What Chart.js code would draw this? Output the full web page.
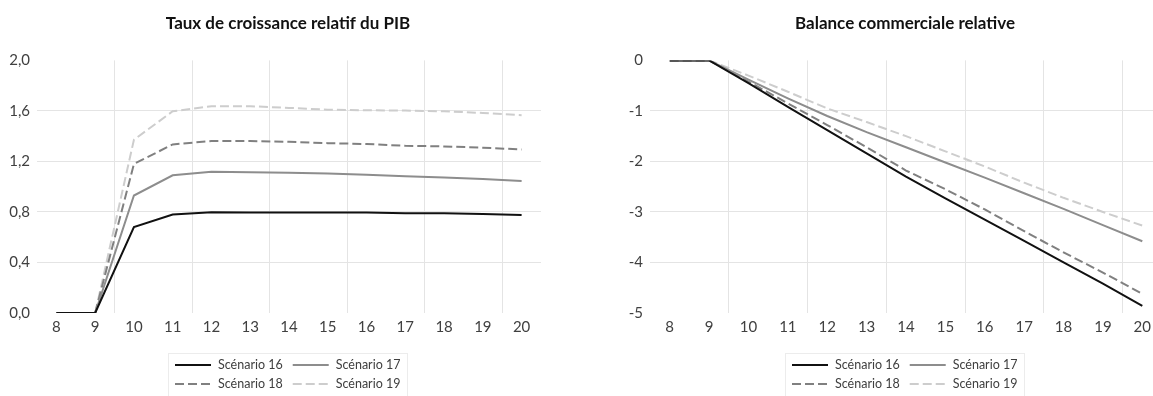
<!DOCTYPE html>
<html>
<head>
<meta charset="utf-8">
<script src="https://cdn.jsdelivr.net/npm/chart.js@4.4.1/dist/chart.umd.min.js"></script>
<style>
  html, body { margin: 0; padding: 0; background: #fff; overflow: hidden; }
  body { width: 1153px; height: 396px; position: relative; }
  canvas { position: absolute; top: 0; }
  #pib { left: 0; }
  #balance { left: 580px; }
</style>
</head>
<body>
<canvas id="pib" width="576" height="396"></canvas>
<canvas id="balance" width="650" height="396"></canvas>
<script>
const years = ['8', '9', '10', '11', '12', '13', '14', '15', '16', '17', '18', '19', '20'];
const scenarios = ['Scénario 16', 'Scénario 17', 'Scénario 18', 'Scénario 19'];

// Taux de croissance relatif du PIB
const pib16 = [0, 0, 0.68, 0.78, 0.797, 0.795, 0.795, 0.795, 0.795, 0.79, 0.79, 0.784, 0.776];
const pib17 = [0, 0, 0.93, 1.09, 1.118, 1.115, 1.11, 1.105, 1.094, 1.083, 1.073, 1.06, 1.046];
const pib18 = [0, 0, 1.18, 1.335, 1.362, 1.362, 1.355, 1.345, 1.338, 1.324, 1.319, 1.309, 1.295];
const pib19 = [0, 0, 1.372, 1.597, 1.637, 1.637, 1.624, 1.61, 1.605, 1.603, 1.597, 1.584, 1.566];
const pibTicks = ['0,0', '0,4', '0,8', '1,2', '1,6', '2,0'];

// Balance commerciale relative
const bal16 = [0, 0, -0.45, -0.92, -1.38, -1.84, -2.3, -2.73, -3.15, -3.57, -4.0, -4.42, -4.86];
const bal17 = [0, 0, -0.38, -0.75, -1.1, -1.42, -1.72, -2.02, -2.32, -2.63, -2.94, -3.26, -3.58];
const bal18 = [0, 0, -0.42, -0.85, -1.28, -1.72, -2.18, -2.55, -2.95, -3.38, -3.8, -4.2, -4.62];
const bal19 = [0, 0, -0.3, -0.62, -0.95, -1.22, -1.5, -1.8, -2.1, -2.42, -2.72, -3.0, -3.27];
const balTicks = ['-5', '-4', '-3', '-2', '-1', '0'];

const lineColors = ['#111111', '#8d8d8d', '#808080', '#cdcdcd'];
const lineDashes = [[], [], [9, 4], [9, 4]];
const gridColor = '#e4e4e4';
const textColor = '#404040';

// legend drawn as a framed 2x2 block under the plot, like the Excel original
const boxLegend = {
  id: 'boxLegend',
  afterDraw(chart, args, opts) {
    const ctx = chart.ctx;
    const sets = chart.data.datasets;
    ctx.save();
    ctx.font = '12.5px Lato';
    const lineLen = 36, gap = 7, colGap = 10, pad = 7;
    const tw = sets.map(d => ctx.measureText(d.label).width);
    const col1 = lineLen + gap + Math.max(tw[0], tw[2]);
    const col2 = lineLen + gap + Math.max(tw[1], tw[3]);
    const w = pad * 2 + col1 + colGap + col2;
    const left = Math.round(chart.width / 2 - w / 2);
    const top = opts.top;
    ctx.strokeStyle = '#ececec';
    ctx.lineWidth = 1;
    ctx.strokeRect(left + 0.5, top + 0.5, Math.round(w), 60);
    sets.forEach((d, i) => {
      const x = left + pad + (i % 2 ? col1 + colGap : 0);
      const y = top + 12 + Math.floor(i / 2) * 19;
      ctx.strokeStyle = d.borderColor;
      ctx.lineWidth = d.borderWidth;
      ctx.setLineDash(d.borderDash);
      ctx.beginPath();
      ctx.moveTo(x, y);
      ctx.lineTo(x + lineLen, y);
      ctx.stroke();
      ctx.setLineDash([]);
      ctx.fillStyle = textColor;
      ctx.textBaseline = 'middle';
      ctx.fillText(d.label, x + lineLen + gap, y);
    });
    ctx.restore();
  }
};

// an empty axis on the right keeps the title centred on the whole chart object
function makeChart(id, title, series, yMin, yMax, yStep, tickLabels, yWidth, rightGap) {
  return new Chart(document.getElementById(id), {
    type: 'line',
    data: {
      labels: years,
      datasets: series.map((s, i) => ({
        label: scenarios[i],
        data: s,
        borderColor: lineColors[i],
        borderDash: lineDashes[i],
        borderWidth: 2,
        pointRadius: 0,
        tension: 0,
        fill: false
      }))
    },
    options: {
      responsive: false,
      animation: false,
      layout: { padding: { left: 0, right: 0, top: 0, bottom: 53 } },
      scales: {
        x: {
          offset: true,
          afterFit: s => { s.height = 30; },
          border: { display: false },
          grid: {
            offset: true,
            drawTicks: false,
            color: c => (c.index > 0 && c.index < years.length && c.index % 2 === 0) ? gridColor : 'rgba(0,0,0,0)'
          },
          ticks: { color: textColor, font: { family: 'Lato', size: 15 }, padding: 5, maxRotation: 0, autoSkip: false }
        },
        y: {
          min: yMin,
          max: yMax,
          afterFit: s => { s.width = yWidth; },
          border: { display: false },
          grid: {
            drawTicks: false,
            color: c => (c.tick && (Math.abs(c.tick.value - yMin) < 1e-6 || Math.abs(c.tick.value - yMax) < 1e-6)) ? 'rgba(0,0,0,0)' : gridColor
          },
          ticks: {
            stepSize: yStep,
            color: textColor,
            font: { family: 'Lato', size: 15 },
            padding: 7,
            callback: (v, i) => tickLabels[i]
          }
        },
        spacer: {
          type: 'linear',
          position: 'right',
          afterFit: s => { s.width = rightGap; },
          border: { display: false },
          grid: { display: false },
          ticks: { display: false }
        }
      },
      plugins: {
        legend: { display: false },
        tooltip: { enabled: false },
        title: {
          display: true,
          text: title,
          color: '#111111',
          font: { family: 'Lato', size: 17, weight: 'bold' },
          padding: { top: 13, bottom: 27 }
        },
        boxLegend: { top: 353 }
      }
    },
    plugins: [boxLegend]
  });
}

makeChart('pib', 'Taux de croissance relatif du PIB', [pib16, pib17, pib18, pib19], 0, 2, 0.4, pibTicks, 37, 35);
makeChart('balance', 'Balance commerciale relative', [bal16, bal17, bal18, bal19], -5, 0, 1, balTicks, 70, 68);
</script>
</body>
</html>
